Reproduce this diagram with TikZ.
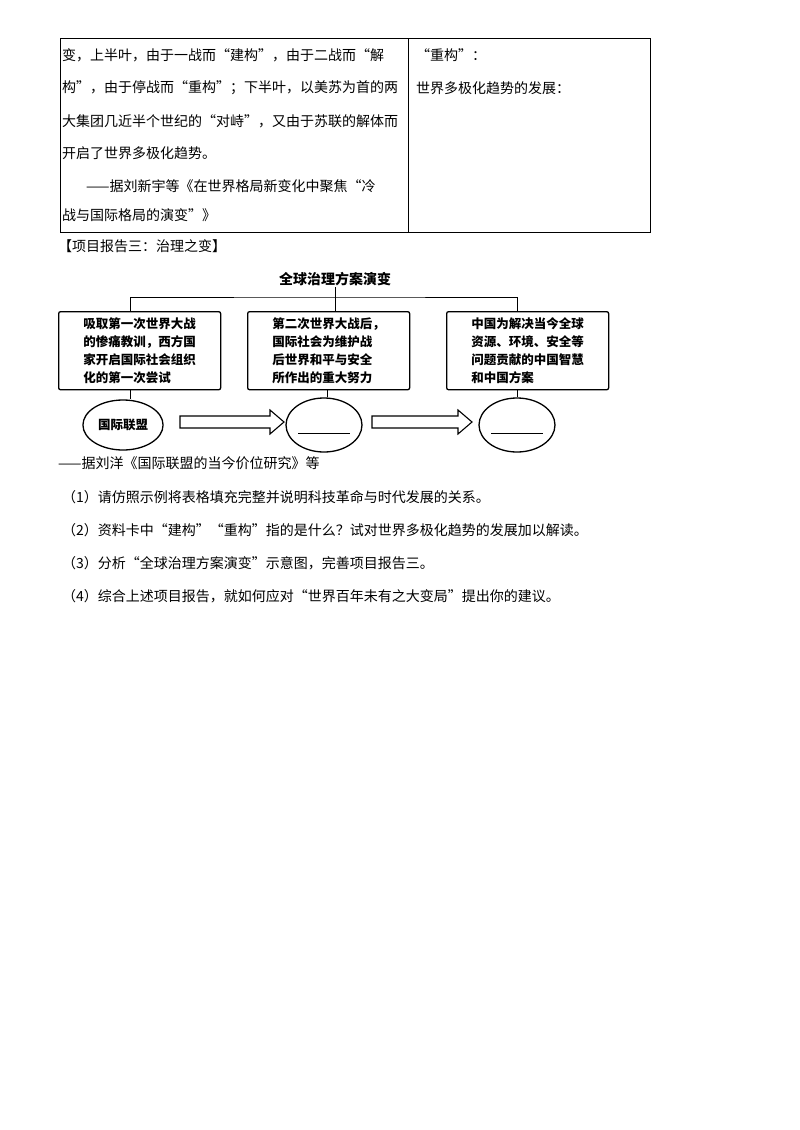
\documentclass[tikz,border=0pt]{standalone}
\usepackage{fontspec}
\setmainfont{Noto Sans CJK SC}
\usetikzlibrary{shapes.geometric}
\begin{document}
\begin{tikzpicture}[x=1pt,y=-1pt,
  txt/.style={anchor=west,inner sep=0pt,font=\fontsize{14}{14}\selectfont},
  box/.style={draw,line width=1.3pt,rounded corners=2pt,minimum width=162pt,minimum height=76pt,anchor=north west,align=left,inner sep=6pt,font=\fontsize{12.5}{18}\selectfont\bfseries},
  ell/.style={draw,line width=1.3pt,ellipse,minimum width=76pt,minimum height=54pt},
  ln/.style={line width=1pt}]
\useasboundingbox (0,0) rectangle (800,1130);
% table
\draw[line width=1pt] (60,38) rectangle (650,232);
\draw[line width=0.8pt] (408,38) -- (408,232);
\node[txt] (l1) at (62,55) {变，上半叶，由于一战而“建构”，由于二战而“解};
\node[txt] (l2) at (62,88) {构”，由于停战而“重构”；下半叶，以美苏为首的两};
\node[txt] (l3) at (62,121) {大集团几近半个世纪的“对峙”，又由于苏联的解体而};
\node[txt] (l4) at (62,153) {开启了世界多极化趋势。};
\node[txt] (l5) at (86,186) {——据刘新宇等《在世界格局新变化中聚焦“冷};
\node[txt] (l6) at (62,215) {战与国际格局的演变”》};
\node[txt] (r1) at (416,55) {“重构”：};
\node[txt] (r2) at (416,88) {世界多极化趋势的发展：};
\node[txt] (h) at (58,246) {【项目报告三：治理之变】};
% diagram
\node[font=\fontsize{14}{14}\selectfont\bfseries,inner sep=1pt] (t) at (335,279) {全球治理方案演变};
\coordinate (j) at (335,297);
\node[box] (b1) at (58,311) {吸取第一次世界大战\\的惨痛教训，西方国\\家开启国际社会组织\\化的第一次尝试};
\node[box] (b2) at (247,311) {第二次世界大战后，\\国际社会为维护战\\后世界和平与安全\\所作出的重大努力};
\node[box] (b3) at (446,311) {中国为解决当今全球\\资源、环境、安全等\\问题贡献的中国智慧\\和中国方案};
\draw[ln] (t.south) -- (j);
\draw[ln] (b1.north -| 130,0) |- (j) -| (b3.north -| 517,0);
\draw[ln] (j) -- (b2.north -| 335,0);
\node[ell,minimum height=50pt,font=\fontsize{12.5}{12.5}\selectfont\bfseries] (e1) at (123,425) {国际联盟};
\node[ell] (e2) at (324,425) {};
\node[ell] (e3) at (517,425) {};
\draw[ln] (b1.south -| 130,0) -- (e1.north -| 130,0);
\draw[ln] (b2.south -| 327,0) -- (e2.north -| 327,0);
\draw[ln] (b3.south -| 517,0) -- (e3.north -| 517,0);
\draw[line width=1pt] ([xshift=-26]e2.center) ++(0,8) coordinate (u1) -- ++(52,0);
\draw[line width=1pt] ([xshift=-26]e3.center) ++(0,8) coordinate (u2) -- ++(52,0);
\draw[line width=1.1pt,line join=miter] (180,416) -- (270,416) -- (270,410) -- (284,422) -- (270,434) -- (270,428) -- (180,428) -- cycle;
\draw[line width=1.1pt,line join=miter] (372,416) -- (458,416) -- (458,410) -- (472,422) -- (458,434) -- (458,428) -- (372,428) -- cycle;
% questions
\node[txt] (s) at (58,463) {——据刘洋《国际联盟的当今价位研究》等};
\node[txt] (q1) at (62,497) {（1）请仿照示例将表格填充完整并说明科技革命与时代发展的关系。};
\node[txt] (q2) at (62,530) {（2）资料卡中“建构”“重构”指的是什么？试对世界多极化趋势的发展加以解读。};
\node[txt] (q3) at (62,563) {（3）分析“全球治理方案演变”示意图，完善项目报告三。};
\node[txt] (q4) at (62,596) {（4）综合上述项目报告，就如何应对“世界百年未有之大变局”提出你的建议。};
\end{tikzpicture}
\end{document}
